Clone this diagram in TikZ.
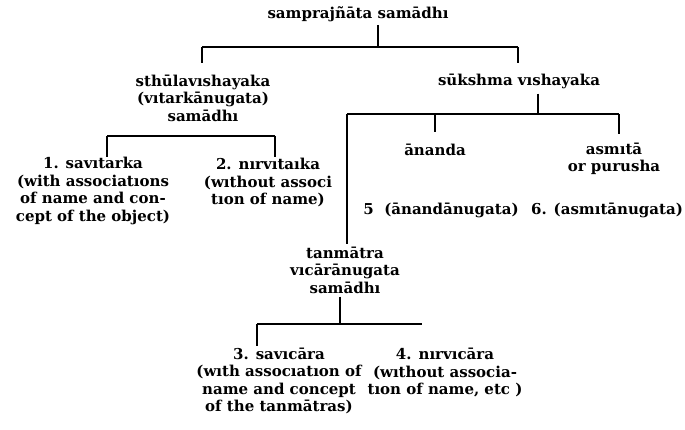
\documentclass[tikz,border=0pt]{standalone}
\usepackage{fontspec}
\setmainfont{DejaVu Serif}
\begin{document}
\begin{tikzpicture}[x=1pt,y=-1pt,
  lbl/.style={inner sep=0pt, align=center, font=\bfseries\fontsize{15}{17.5}\selectfont},
  conn/.style={line width=1.2pt, line cap=butt}]
\useasboundingbox (0,0) rectangle (685,430);
% labels
\node[lbl] (title)  at (358,14)  {samprajñāta samādhı};
\node[lbl] (sthula) at (203,98)  {sthūlavıshayaka\\(vıtarkānugata)\\samādhı};
\node[lbl] (suksh)  at (519,81)  {sūkshma vıshayaka};
\node[lbl] (savit)  at (93,191)  {1. savıtarka\\(with associatıons\\of name and con-\\cept of the object)};
\node[lbl] (nirvit) at (268,182.5) {2. nırvıtaıka\\(wıthout associ\\tıon of name)};
\node[lbl] (ananda) at (435,150) {ānanda};
\node[lbl] (asmita) at (614,159) {asmıtā\\or purusha};
\node[lbl] (anug5)  at (441,210) {5\ \ (ānandānugata)};
\node[lbl] (anug6)  at (607,210) {6. (asmıtānugata)};
\node[lbl] (tanm)   at (345,270) {tanmātra\\vıcārānugata\\samādhı};
\node[lbl] (savic)  at (279,381) {3. savıcāra\\(wıth assocıatıon of\\name and concept\\of the tanmātras)};
\node[lbl] (nirvic) at (445,373) {4. nırvıcāra\\(wıthout associa-\\tıon of name, etc )};
% top bracket
\coordinate (tb)  at (378,47);
\coordinate (tbL) at (202,47);
\coordinate (tbR) at (518,47);
\draw[conn, shorten <=3pt] (title.south -| tb) -- (tb);
\draw[conn] (tbL) -- (tbR);
\draw[conn] (tbL) -- ++(0,16);
\draw[conn] (tbR) -- ++(0,16);
% sthula bracket
\coordinate (sbL) at (107,136);
\coordinate (sbR) at (275,136);
\draw[conn] (sbL) -- (sbR);
\draw[conn] (sbL) -- ++(0,21);
\draw[conn] (sbR) -- ++(0,21);
% sukshma bracket
\coordinate (kb)  at (538,114);
\coordinate (kbL) at (347,114);
\coordinate (kbM) at (435,114);
\coordinate (kbR) at (619,114);
\draw[conn, shorten <=5pt] (suksh.south -| kb) -- (kb);
\draw[conn] (kbL) -- (kbR);
\draw[conn, shorten >=2pt] (kbL) -- (tanm.north -| kbL);
\draw[conn] (kbM) -- ++(0,18);
\draw[conn] (kbR) -- ++(0,20);
% tanmatra bracket
\coordinate (mb)  at (340,324);
\coordinate (mbL) at (257,324);
\coordinate (mbR) at (422,324);
\draw[conn, shorten <=3pt] (tanm.south -| mb) -- (mb);
\draw[conn] (mbL) -- (mbR);
\draw[conn] (mbL) -- ++(0,22);
\end{tikzpicture}
\end{document}
